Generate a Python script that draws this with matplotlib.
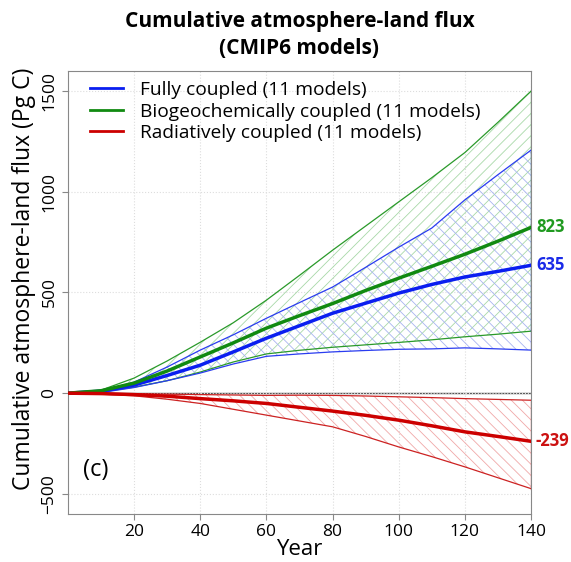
import matplotlib.pyplot as plt
import numpy as np

plt.rcParams['font.family'] = ['Open Sans', 'DejaVu Sans']
plt.rcParams['hatch.linewidth'] = 0.6

years = [0, 10, 20, 30, 40, 50, 60, 70, 80, 90, 100, 110, 120, 130, 140]

# fully coupled
fc_mean = [0, 10, 40, 88, 139, 205, 273, 335, 397, 447, 497, 540, 577, 605, 635]
fc_low = [0, 3, 28, 62, 100, 145, 183, 195, 205, 212, 218, 220, 225, 220, 214]
fc_high = [0, 10, 55, 130, 214, 290, 372, 450, 527, 625, 725, 820, 960, 1085, 1207]

# biogeochemically coupled
bgc_mean = [0, 12, 50, 110, 180, 250, 323, 385, 445, 510, 571, 630, 690, 755, 823]
bgc_low = [0, 5, 30, 62, 105, 155, 195, 213, 228, 240, 252, 265, 280, 293, 308]
bgc_high = [0, 15, 75, 160, 253, 350, 462, 585, 710, 830, 950, 1070, 1195, 1345, 1500]

# radiatively coupled
rad_mean = [0, -2, -7, -15, -27, -38, -51, -70, -89, -110, -134, -162, -192, -215, -239]
rad_low = [0, -5, -13, -30, -51, -80, -109, -138, -167, -215, -267, -315, -366, -420, -474]
rad_high = [0, 0, -3, -5, -7, -9, -11, -10, -11, -14, -18, -22, -27, -31, -35]

end_labels = ['823', '635', '-239']

fig = plt.figure(figsize=(5.71, 5.62), dpi=100)
ax = fig.add_axes([0.119, 0.0854, 0.811, 0.7883])

ax.grid(True, color='#dddddd', linestyle=':', linewidth=0.8)
ax.axhline(0, color='#555555', linewidth=1.0, zorder=1)

# envelopes
ax.fill_between(years, bgc_low, bgc_high, facecolor='none', edgecolor='#a8d8a8',
                hatch='///', linewidth=0, zorder=2)
ax.fill_between(years, fc_low, fc_high, facecolor='none', edgecolor='#a8b4f0',
                hatch='\\\\\\', linewidth=0, zorder=2)
ax.fill_between(years, rad_low, rad_high, facecolor='none', edgecolor='#f0a8a8',
                hatch='\\\\\\', linewidth=0, zorder=2)

for lo, hi, c in [(bgc_low, bgc_high, '#2a9a2a'), (fc_low, fc_high, '#2a3cf0'),
                  (rad_low, rad_high, '#cc2222')]:
    ax.plot(years, lo, color=c, linewidth=0.9, zorder=3)
    ax.plot(years, hi, color=c, linewidth=0.9, zorder=3)
    ax.plot([years[-1], years[-1]], [lo[-1], hi[-1]], color=c, linewidth=0.9, zorder=3)

ax.plot(years, fc_mean, color='#0a1ef0', linewidth=2.5, zorder=4, label='Fully coupled (11 models)')
ax.plot(years, bgc_mean, color='#118a11', linewidth=2.5, zorder=4,
        label='Biogeochemically coupled (11 models)')
ax.plot(years, rad_mean, color='#cc0000', linewidth=2.5, zorder=4,
        label='Radiatively coupled (11 models)')

# end values
ax.text(141.5, bgc_mean[-1], end_labels[0], color='#1f9a1f', fontsize=12,
        fontweight='bold', va='center', ha='left', clip_on=False)
ax.text(141.5, fc_mean[-1], end_labels[1], color='#1a2ae8', fontsize=12,
        fontweight='bold', va='center', ha='left', clip_on=False)
ax.text(141.5, rad_mean[-1], end_labels[2], color='#cc1111', fontsize=12,
        fontweight='bold', va='center', ha='left', clip_on=False)

ax.text(4.5, -380, '(c)', fontsize=17, va='center', ha='left')

ax.set_xlim(0, 140)
ax.set_ylim(-600, 1600)
ax.set_xticks([20, 40, 60, 80, 100, 120, 140])
ax.set_yticks([-500, 0, 500, 1000, 1500])
ax.tick_params(axis='both', labelsize=12.5, color='#888888', length=4)
for lab in ax.get_yticklabels():
    lab.set_rotation(90)
    lab.set_va('center')
for s in ax.spines.values():
    s.set_color('#888888')

ax.set_xlabel('Year', fontsize=16, labelpad=-1)
ax.set_ylabel('Cumulative atmosphere-land flux (Pg C)', fontsize=16.5)
ax.yaxis.set_label_coords(-0.068, 0.53)
ax.set_title('Cumulative atmosphere-land flux\n(CMIP6 models)', fontsize=15,
             fontweight='bold', pad=12, linespacing=1.4)

leg = ax.legend(loc='upper left', bbox_to_anchor=(0.048, 0.977), frameon=False,
                fontsize=13.8, handlelength=1.7, borderaxespad=0, borderpad=0,
                labelspacing=0.18, handletextpad=0.9)
for line in leg.get_lines():
    line.set_linewidth(2)

fig.savefig('out.png', dpi=100)
